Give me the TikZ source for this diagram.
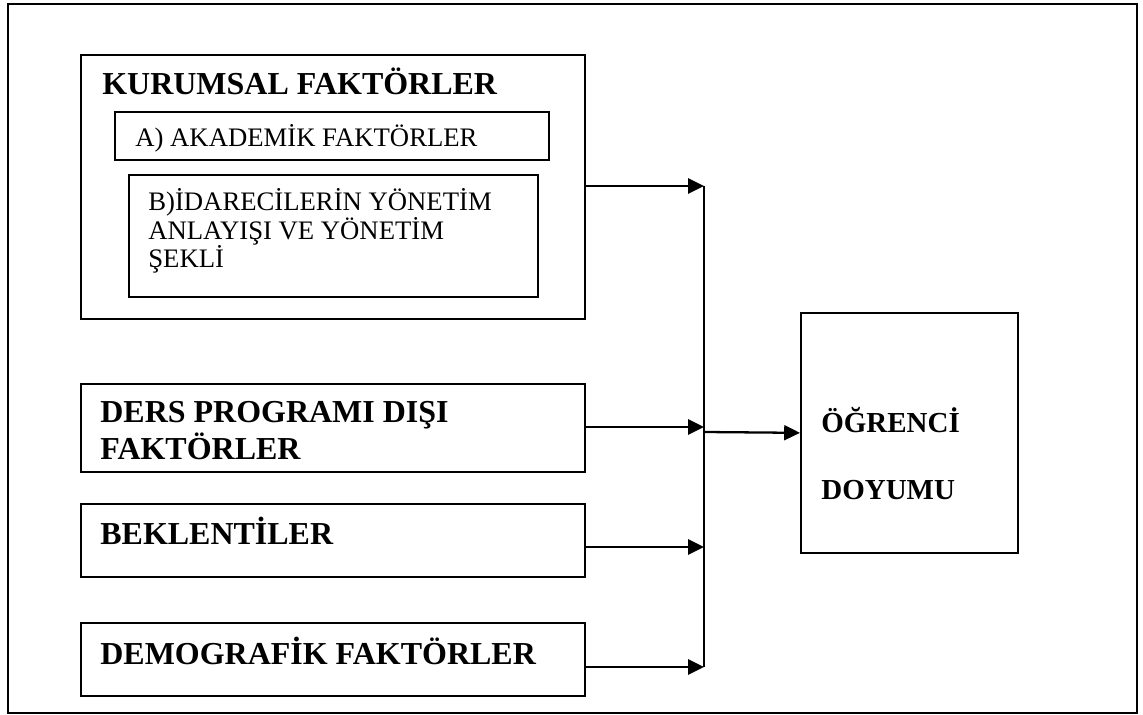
\documentclass[tikz,border=0pt]{standalone}
\usepackage{fontspec}
\setmainfont{Liberation Serif}
\usetikzlibrary{arrows.meta,positioning}

\begin{document}
\begin{tikzpicture}[x=0.02cm, y=-0.02cm,
  >={Triangle[length=9pt,width=8.5pt]},
  box/.style={draw, line width=1pt, inner sep=0pt, anchor=north west},
  hd/.style={anchor=base west, inner sep=0pt, align=left,
             font=\fontsize{18.2}{21.6}\selectfont\bfseries},
  tx/.style={anchor=base west, inner sep=0pt, align=left,
             font=\fontsize{15.2}{16.5}\selectfont},
  ln/.style={line width=1.3pt}]
\useasboundingbox (0,0) rectangle (1143,715);
\draw[line width=1pt] (8,4) rectangle (1137,713);
% left column
\node[box, minimum width=10.08cm, minimum height=5.28cm] (kur) at (80,54) {};
\node[box, minimum width=8.68cm, minimum height=0.96cm] (aka) at (114,111) {};
\node[box, minimum width=8.18cm, minimum height=2.44cm] (ida) at (128,174) {};
\node[box, minimum width=10.08cm, minimum height=1.76cm] (ders) at (80,383) {};
\node[box, minimum width=10.08cm, minimum height=1.46cm] (bek) at (80,503) {};
\node[box, minimum width=10.08cm, minimum height=1.46cm] (dem) at (80,622) {};
\node[box, minimum width=4.34cm, minimum height=4.8cm] (ogr) at (800,312) {};
% texts (base = last line)
\node[hd] (kurT) at (102,95) {KURUMSAL FAKTÖRLER};
\node[tx] (akaT) at (135,147) {A) AKADEMİK FAKTÖRLER};
\node[tx] (idaT) at (148,268) {B)İDARECİLERİN YÖNETİM\\ANLAYIŞI VE YÖNETİM\\ŞEKLİ};
\node[hd] (dersT) at (100,460) {DERS PROGRAMI DIŞI\\FAKTÖRLER};
\node[hd] (bekT) at (100,545) {BEKLENTİLER};
\node[hd] (demT) at (100,665) {DEMOGRAFİK FAKTÖRLER};
\node[hd, font=\fontsize{16.5}{38.7}\selectfont\bfseries] (ogrT) at (821,500) {ÖĞRENCİ\\DOYUMU};
% connectors
\coordinate (j1) at (704,186);
\coordinate (j2) at (704,427);
\coordinate (j3) at (704,547);
\coordinate (j4) at (704,667);
\coordinate (jm) at (704,432);
\draw[ln] (j1) -- (j4);
\draw[->, ln] (j1 -| kur.east) -- (j1);
\draw[->, ln] (j2 -| ders.east) -- (j2);
\draw[->, ln] (j3 -| bek.east) -- (j3);
\draw[->, ln] (j4 -| dem.east) -- (j4);
\draw[->, ln] (jm) -- (ogr.west);
\end{tikzpicture}
\end{document}
